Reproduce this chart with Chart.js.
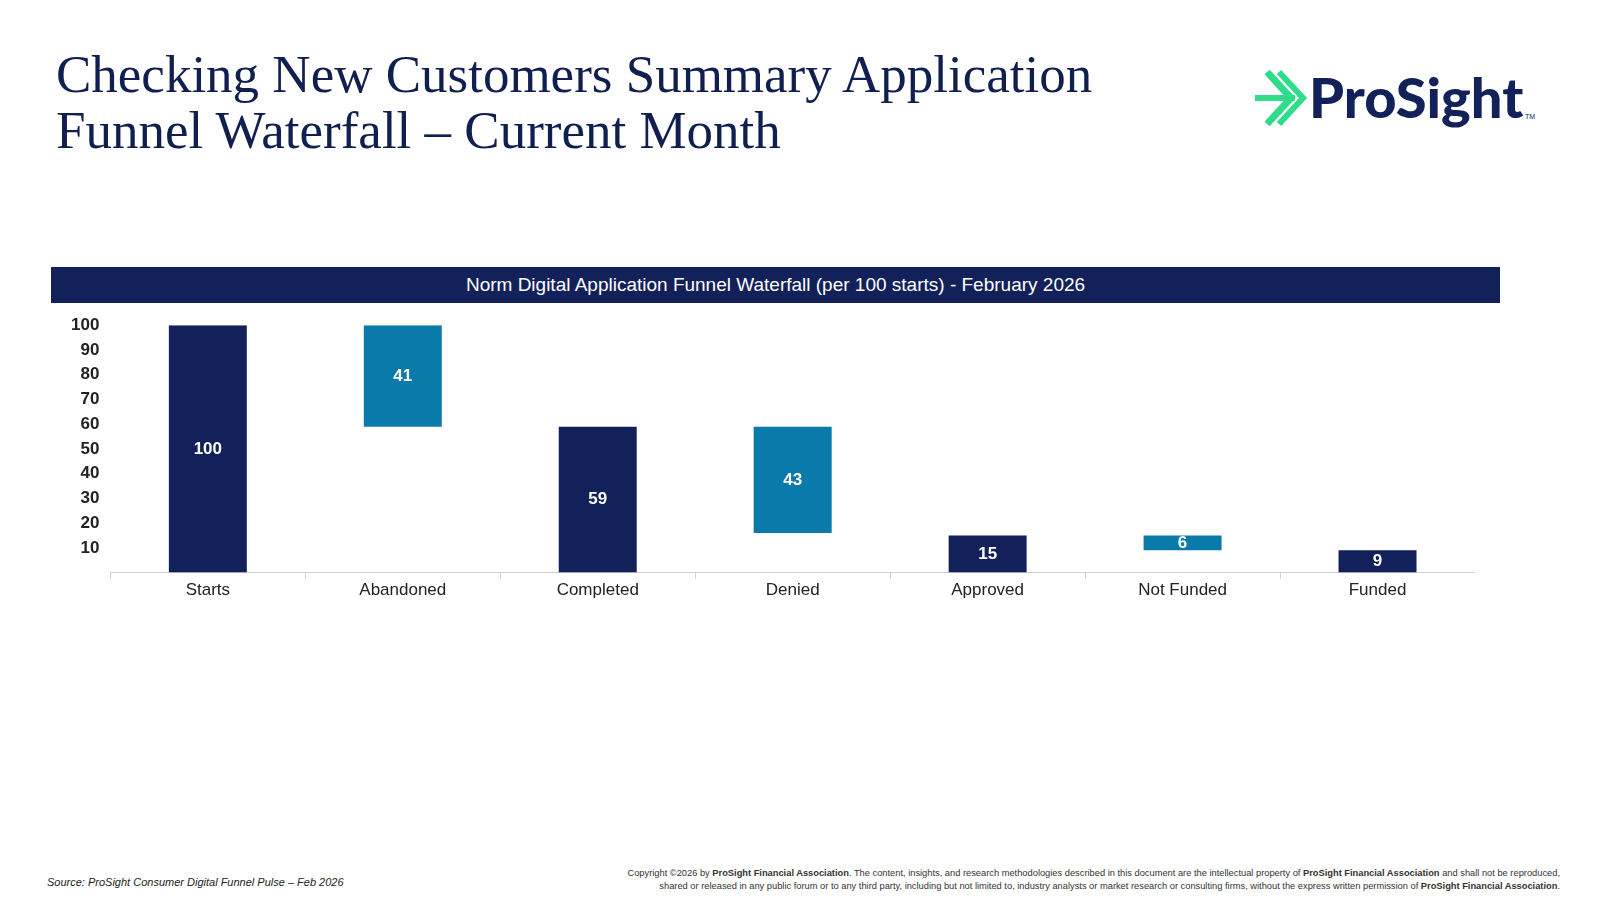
<!DOCTYPE html>
<html>
<head>
<meta charset="utf-8">
<script src="https://cdn.jsdelivr.net/npm/chart.js@4"></script>
<style>
body { margin:0; width:1600px; height:900px; background:#fff; position:relative; font-family:"Liberation Sans", Arial, sans-serif; overflow:hidden; }
#title { position:absolute; left:56px; top:46px; font-family:"Liberation Serif","Times New Roman",serif; font-size:53px; line-height:56px; color:#0f1f4f; }
#logo { position:absolute; left:1255px; top:66px; }
#band { position:absolute; left:51px; top:267px; width:1449px; height:36px; background:#13215a; color:#fff; font-size:19px; line-height:36px; text-align:center; }
#wrap { position:absolute; left:68px; top:312px; width:1407px; height:291px; }
#src { position:absolute; left:47px; top:876px; font-size:11px; font-style:italic; color:#222; }
#copy { position:absolute; right:40px; top:867px; font-size:9.3px; line-height:13px; color:#333; text-align:right; }
</style>
</head>
<body>
<div id="title">Checking New Customers Summary Application<br>Funnel Waterfall – Current Month</div>
<div id="logo">
<svg width="300" height="70">
<g stroke="#2fdc8a" stroke-width="7" fill="none" stroke-linecap="butt">
<path d="M12 6 L36 32 L12 58"/>
<path d="M24 6 L48 32 L24 58" stroke-width="6"/>
<path d="M0 32 L40 32" stroke-width="6"/>
</g>
<text x="54" y="52" font-family="Lato, 'Open Sans', sans-serif" font-weight="900" font-size="56" fill="#13215a">ProSight</text>
<text x="270" y="53" font-size="7" fill="#13215a">TM</text>
</svg>
</div>
<div id="band">Norm Digital Application Funnel Waterfall (per 100 starts) - February 2026</div>
<div id="wrap"><canvas id="c"></canvas></div>
<div id="src">Source: ProSight Consumer Digital Funnel Pulse – Feb 2026</div>
<div id="copy">Copyright ©2026 by <b>ProSight Financial Association</b>. The content, insights, and research methodologies described in this document are the intellectual property of <b>ProSight Financial Association</b> and shall not be reproduced,<br>shared or released in any public forum or to any third party, including but not limited to, industry analysts or market research or consulting firms, without the express written permission of <b>ProSight Financial Association</b>.</div>
<script>
const categories = ['Starts','Abandoned','Completed','Denied','Approved','Not Funded','Funded'];
const barLow = [0, 59, 0, 16, 0, 9, 0];
const barHigh = [100, 100, 59, 59, 15, 15, 9];
const barLabels = ['100','41','59','43','15','6','9'];
const barColors = ['#13215a','#0a7aab','#13215a','#0a7aab','#13215a','#0a7aab','#13215a'];

const valueLabels = {
  id: 'valueLabels',
  afterDatasetsDraw(chart) {
    const ctx = chart.ctx;
    const meta = chart.getDatasetMeta(0);
    ctx.save();
    ctx.fillStyle = '#fff';
    ctx.font = 'bold 17px "Liberation Sans", Arial';
    ctx.textAlign = 'center';
    ctx.textBaseline = 'middle';
    meta.data.forEach((bar, i) => {
      ctx.fillText(barLabels[i], bar.x, (bar.y + bar.base) / 2);
    });
    ctx.restore();
  }
};

new Chart(document.getElementById('c'), {
  type: 'bar',
  data: {
    labels: categories,
    datasets: [{
      data: categories.map((c, i) => [barLow[i], barHigh[i]]),
      backgroundColor: barColors,
      barPercentage: 0.4,
      categoryPercentage: 1
    }]
  },
  options: {
    responsive: true,
    maintainAspectRatio: false,
    animation: false,
    layout: { padding: { top: 6 } },
    plugins: { legend: { display: false }, tooltip: { enabled: false } },
    scales: {
      y: {
        min: 0, max: 100,
        grid: { display: false },
        border: { display: false },
        ticks: { stepSize: 10, color: '#222', font: { size: 17, weight: 'bold', family: '"Liberation Sans", Arial' },
          callback: v => v === 0 ? '' : v }
      },
      x: {
        grid: { display: true, drawOnChartArea: false, tickLength: 6, color: '#d0d0d0', offset: true },
        border: { color: '#d0d0d0' },
        ticks: { color: '#222', padding: 2, font: { size: 17, family: '"Liberation Sans", Arial' } }
      }
    }
  },
  plugins: [valueLabels]
});
</script>
</body>
</html>
